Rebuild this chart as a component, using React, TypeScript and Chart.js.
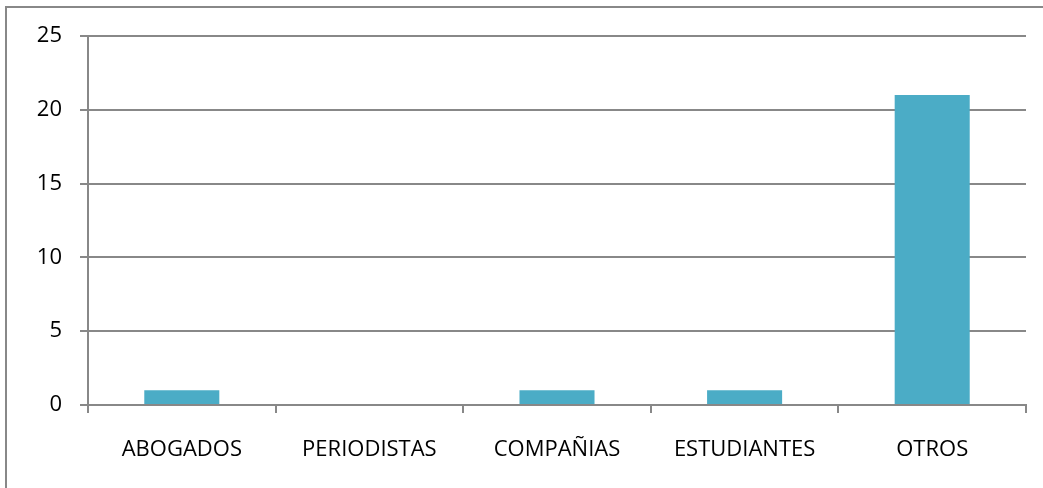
import React, { useEffect, useRef } from "react";
import { Chart, registerables } from "chart.js";

Chart.register(...registerables);

const categories = ["ABOGADOS", "PERIODISTAS", "COMPAÑIAS", "ESTUDIANTES", "OTROS"];
const values = [1, 0, 1, 1, 21];
const yMin = 0;
const yMax = 25;
const yStep = 5;

export default function App() {
  const ref = useRef<HTMLCanvasElement | null>(null);

  useEffect(() => {
    if (!ref.current) return;
    const font = { family: "'Open Sans', sans-serif", size: 22 };
    const chart = new Chart(ref.current, {
      type: "bar",
      data: {
        labels: categories,
        datasets: [
          {
            data: values,
            backgroundColor: "#4BACC6",
            borderWidth: 0,
            categoryPercentage: 1,
            barPercentage: 0.4,
          },
        ],
      },
      options: {
        animation: false,
        responsive: false,
        maintainAspectRatio: false,
        layout: { padding: { top: 36, right: 17, left: 0, bottom: 0 } },
        plugins: { legend: { display: false }, tooltip: { enabled: false } },
        scales: {
          x: {
            grid: {
              offset: true,
              drawOnChartArea: false,
              drawTicks: true,
              tickLength: 8,
              color: "#888888",
              lineWidth: 2,
            },
            border: { color: "#888888", width: 2 },
            ticks: { color: "#000000", font, padding: 24, maxRotation: 0, autoSkip: false },
            afterFit: (s: any) => {
              s.height = 83;
            },
          },
          y: {
            min: yMin,
            max: yMax,
            grid: {
              drawTicks: true,
              tickLength: 8,
              color: "#888888",
              lineWidth: 2,
            },
            border: { color: "#888888", width: 2 },
            ticks: { stepSize: yStep, color: "#000000", font, padding: 18 },
            afterFit: (s: any) => {
              s.width = 88;
            },
          },
        },
      },
    });
    return () => chart.destroy();
  }, []);

  return (
    <div
      style={{
        position: "fixed",
        left: 0,
        top: 0,
        width: 1043,
        height: 488,
        overflow: "hidden",
        background: "#ffffff",
      }}
    >
      <div
        style={{
          position: "absolute",
          left: 5,
          top: 6,
          width: 1200,
          height: 700,
          border: "2px solid #888888",
          boxSizing: "border-box",
        }}
      />
      <canvas ref={ref} width={1043} height={488} style={{ position: "absolute", left: 0, top: 0 }} />
    </div>
  );
}
